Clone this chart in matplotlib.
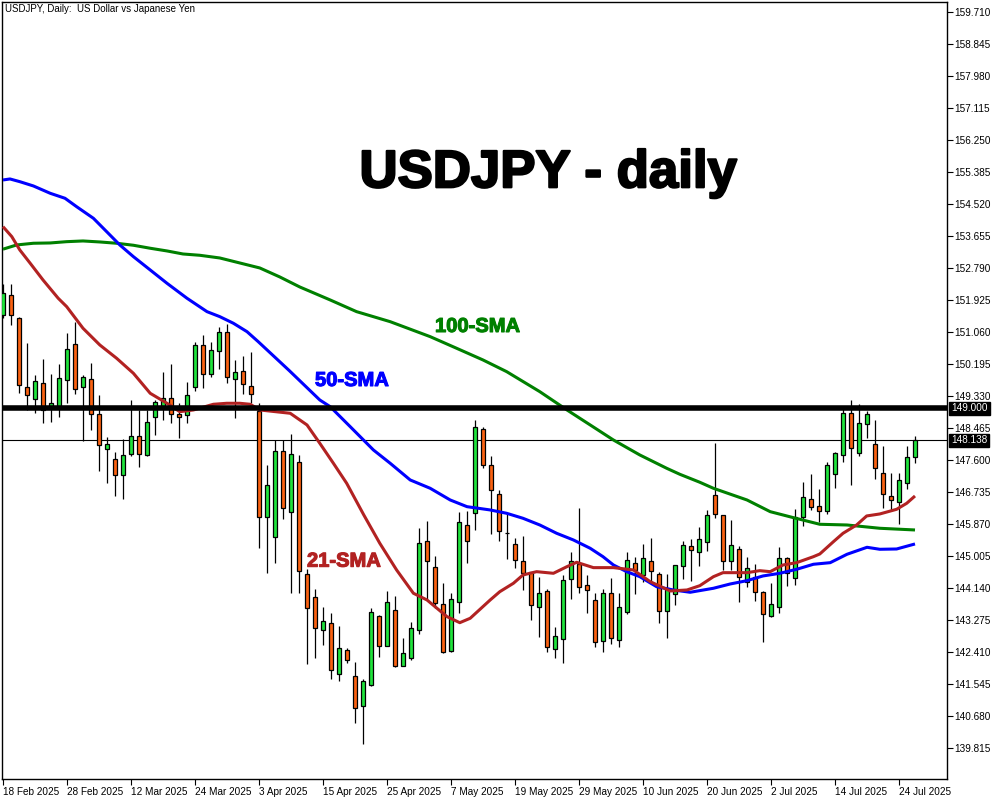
import matplotlib
matplotlib.use("Agg")
import matplotlib.pyplot as plt
import matplotlib.transforms as mtransforms
import matplotlib.patheffects as pe

# ---------------- data ----------------
opens = [151.527, 152.068, 151.438, 149.589, 149.248, 149.681, 149.013, 149.013, 149.762, 150.735,
         149.589, 149.789, 148.843, 147.897, 147.626, 147.194, 147.761, 148.248, 147.734, 148.762,
         149.013, 149.275, 148.851, 148.816, 149.589, 150.708, 149.924, 150.546, 151.060, 149.789,
         150.005, 149.600, 148.932, 146.058, 145.518, 147.843, 146.193, 147.545, 144.525, 143.896,
         143.012, 143.193, 141.814, 142.463, 141.760, 140.957, 141.525, 143.398, 142.587, 143.544,
         142.047, 142.246, 143.012, 145.409, 144.707, 143.706, 142.436, 143.760, 145.842, 146.166,
         148.437, 147.464, 146.680, 145.642, 145.328, 144.868, 144.571, 143.625, 144.058, 142.490,
         142.760, 144.382, 144.788, 144.220, 143.815, 142.706, 144.004, 142.741, 143.490, 144.815,
         144.507, 144.868, 144.525, 143.517, 143.985, 144.734, 145.274, 145.112, 145.399, 146.653,
         146.112, 144.885, 145.193, 144.301, 144.436, 144.031, 143.398, 143.642, 144.950, 144.409,
         146.075, 146.545, 146.356, 146.221, 147.221, 147.734, 148.870, 147.788, 148.573, 148.032,
         147.248, 146.626, 146.464, 146.977, 147.696]
highs = [152.365, 152.365, 151.481, 150.778, 149.905, 150.330, 149.932, 150.203, 151.049, 151.330,
         149.897, 150.221, 149.365, 148.237, 147.824, 148.167, 149.229, 148.959, 148.959, 149.229,
         149.986, 150.195, 149.148, 149.708, 150.805, 150.987, 150.797, 151.195, 151.284, 150.311,
         150.419, 150.535, 149.140, 147.472, 148.148, 148.148, 148.302, 147.743, 144.652, 144.112,
         143.633, 143.463, 143.120, 142.517, 142.138, 141.679, 143.598, 143.420, 144.066, 143.931,
         142.803, 143.236, 145.777, 145.958, 145.012, 144.290, 144.020, 146.193, 146.229, 148.689,
         148.491, 147.715, 146.796, 146.166, 145.491, 145.553, 144.580, 144.452, 144.120, 143.085,
         144.498, 145.112, 146.310, 144.498, 144.004, 144.120, 144.425, 144.004, 145.112, 144.993,
         145.328, 145.507, 144.571, 144.525, 144.770, 145.409, 145.464, 145.796, 146.256, 148.075,
         146.120, 145.985, 145.283, 144.993, 144.796, 144.076, 144.282, 145.255, 144.993, 146.283,
         147.013, 147.229, 146.823, 147.561, 147.831, 148.978, 149.229, 149.113, 148.932, 148.689,
         147.986, 147.248, 147.248, 147.986, 148.256]
lows = [151.446, 151.257, 149.427, 148.959, 148.870, 148.600, 148.643, 148.778, 149.140, 149.383,
        148.129, 148.418, 147.318, 146.977, 146.642, 146.561, 147.715, 147.426, 147.715, 148.283,
        148.689, 148.616, 148.210, 148.616, 149.481, 149.562, 149.859, 150.067, 149.697, 148.735,
        149.383, 149.148, 145.220, 144.561, 144.831, 146.004, 144.020, 144.020, 142.084, 142.246,
        142.606, 141.679, 141.641, 142.127, 140.489, 139.922, 141.500, 142.290, 142.570, 142.003,
        142.030, 142.201, 142.895, 143.842, 143.598, 142.382, 142.420, 143.463, 144.831, 145.715,
        147.399, 145.607, 145.426, 144.939, 144.679, 144.093, 143.282, 142.831, 142.425, 142.246,
        142.127, 143.858, 144.004, 143.463, 142.560, 142.409, 142.625, 142.544, 143.436, 143.993,
        144.309, 144.309, 143.209, 142.803, 143.679, 144.390, 144.344, 144.750, 145.155, 146.031,
        144.634, 144.634, 143.777, 144.182, 143.796, 142.695, 143.363, 143.463, 144.209, 144.228,
        145.831, 146.256, 145.939, 146.156, 146.859, 147.561, 146.940, 147.724, 148.210, 147.102,
        146.318, 146.256, 145.885, 146.831, 147.534]
closes = [152.114, 151.527, 149.635, 149.356, 149.735, 148.959, 149.140, 149.816, 150.600, 149.519,
          149.843, 148.851, 148.005, 148.032, 147.194, 147.734, 148.248, 147.778, 148.626, 149.167,
          149.275, 148.851, 148.778, 149.356, 150.708, 149.924, 150.573, 151.060, 149.859, 149.978,
          149.654, 149.383, 146.075, 146.923, 147.843, 146.302, 147.761, 144.615, 143.598, 143.074,
          143.247, 141.930, 142.517, 142.201, 140.895, 141.625, 143.490, 142.579, 143.760, 142.030,
          142.382, 143.074, 145.372, 144.877, 143.733, 142.409, 143.842, 145.923, 145.409, 148.491,
          147.464, 146.788, 145.680, 145.626, 144.896, 144.544, 143.679, 144.004, 142.560, 142.841,
          144.355, 144.885, 144.166, 144.093, 142.679, 144.020, 142.787, 143.625, 144.896, 144.642,
          144.950, 144.598, 143.517, 144.139, 144.761, 145.301, 145.166, 145.464, 146.112, 146.139,
          144.885, 145.301, 144.436, 144.679, 144.031, 143.436, 143.706, 144.950, 144.561, 146.075,
          146.599, 146.345, 146.237, 147.464, 147.788, 148.886, 147.924, 148.600, 148.843, 147.383,
          146.680, 146.535, 147.059, 147.680, 148.138]

# moving averages, read at bar positions
sma21_x = [0, 1.1, 2.1, 3.4, 5, 6.9, 7.96, 10, 12.1, 14.2, 16.3, 18.4, 20.5, 22.1, 23.8, 26.3, 27.96,
           29.6, 30.9, 32.1, 35.9, 38, 39.6, 41.3, 42.96, 45.1, 47.1, 49.2, 51.3, 53, 55.5, 57.1, 58.4,
           60.9, 62.1, 63.8, 65, 66.7, 68.8, 70.5, 71.7, 73.8, 76.3, 78.8, 80.9, 83.4, 85.5, 87.1, 88.8,
           90, 93, 94.6, 95.9, 97.5, 99.2, 101.3, 102.1, 103.8, 105, 106.7, 107.96, 109.6, 111.7, 112.96, 114]
sma21_v = [153.915, 153.645, 153.285, 152.925, 152.474, 151.979, 151.752, 151.168, 150.717, 150.357,
           149.951, 149.410, 149.140, 148.913, 148.959, 149.113, 149.140, 149.140, 149.113, 148.959,
           148.870, 148.554, 148.059, 147.518, 146.977, 146.121, 145.355, 144.634, 144.004, 143.823,
           143.372, 143.209, 143.328, 143.823, 144.047, 144.274, 144.499, 144.588, 144.544, 144.724,
           144.842, 144.697, 144.697, 144.634, 144.318, 144.066, 144.093, 144.209, 144.452, 144.561,
           144.561, 144.615, 144.588, 144.769, 144.831, 144.993, 145.066, 145.398, 145.625, 145.850,
           146.094, 146.148, 146.274, 146.436, 146.634]
sma50_x = [0, 0.875, 2.1, 3.8, 5.9, 7.75, 9.2, 11.3, 12.96, 14.6, 16.3, 18.4, 20.5, 23, 25.5, 27.1,
           28.8, 30.5, 31.9, 35.8, 39.6, 40.9, 43.4, 46.3, 48.4, 50.9, 53.4, 55.9, 58, 60.9, 62.96, 65, 67.1,
           69.2, 71.3, 73.4, 75, 76.3, 77.96, 79.6, 81.7, 83.8, 85.9, 88.8, 90.9, 93, 95, 97.1, 99.2,
           101.3, 103.4, 105.5, 108, 109.6, 111.7, 114]
sma50_v = [155.177, 155.204, 155.131, 155.015, 154.817, 154.682, 154.455, 154.141, 153.779, 153.420,
           153.104, 152.744, 152.384, 151.979, 151.617, 151.482, 151.303, 151.076, 150.806, 150.020,
           149.229, 149.048, 148.508, 147.878, 147.518, 147.067, 146.842, 146.526, 146.345, 146.256,
           146.166, 146.031, 145.850, 145.626, 145.445, 145.220, 144.993, 144.769, 144.588, 144.453,
           144.182, 144.093, 144.031, 144.139, 144.255, 144.345, 144.472, 144.544, 144.652, 144.788,
           144.831, 145.058, 145.247, 145.193, 145.201, 145.337]
sma100_x = [0, 1.7, 3.8, 5.9, 7.96, 10, 12.1, 14.2, 16.3, 18.4, 20.5, 22.5, 24.6, 27.1, 29.6, 32.1,
            34.6, 37.1, 40.9, 44.2, 48.4, 53.4, 56.7, 60, 62.96, 67.1, 70.5, 73.4, 76.3, 79.6, 82.96,
            84.6, 87.1, 88.8, 93, 95.9, 98.8, 102.1, 105.5, 109.6, 114]
sma100_v = [153.306, 153.420, 153.466, 153.474, 153.509, 153.528, 153.501, 153.466, 153.412, 153.331,
            153.258, 153.176, 153.141, 153.068, 152.933, 152.798, 152.555, 152.284, 151.933, 151.617,
            151.346, 150.941, 150.627, 150.311, 149.995, 149.454, 148.959, 148.554, 148.148, 147.743,
            147.383, 147.221, 147.005, 146.842, 146.526, 146.210, 146.048, 145.869, 145.850, 145.761,
            145.715]

date_labels = ["18 Feb 2025", "28 Feb 2025", "12 Mar 2025", "24 Mar 2025", "3 Apr 2025",
               "15 Apr 2025", "25 Apr 2025", "7 May 2025", "19 May 2025", "29 May 2025",
               "10 Jun 2025", "20 Jun 2025", "2 Jul 2025", "14 Jul 2025", "24 Jul 2025"]
date_label_step = 8  # bars between date labels

price_ticks = [159.710, 158.845, 157.980, 157.115, 156.250, 155.385, 154.520, 153.655, 152.790,
               151.925, 151.060, 150.195, 149.330, 148.465, 147.600, 146.735, 145.870, 145.005,
               144.140, 143.275, 142.410, 141.545, 140.680, 139.815]
level_price = 149.000
last_price = 148.138

# ---------------- figure ----------------
W, H = 1000, 800
fig = plt.figure(figsize=(W / 100, H / 100), dpi=100)
fig.patch.set_facecolor("white")
L, R, T, B = 2, 947, 2, 779
ax = fig.add_axes([L / W, 1 - B / H, (R - L) / W, (B - T) / H])
ax.set_xlim(-0.125, 118)
ax.set_ylim(138.983, 159.988)

for s in ax.spines.values():
    s.set_linewidth(1.0)
    s.set_color("black")

n = len(opens)
xs = list(range(n))
up_col = "#20E33C"
dn_col = "#FA6212"

# wicks
ax.vlines(xs, lows, highs, color="black", linewidth=0.9, zorder=2)
# bodies
bottoms = [min(o, c) for o, c in zip(opens, closes)]
heights = [max(abs(c - o), 0.012) for o, c in zip(opens, closes)]
cols = [up_col if c >= o else dn_col for o, c in zip(opens, closes)]
ax.bar(xs, heights, bottom=bottoms, width=0.6, color=cols, edgecolor="black",
       linewidth=0.9, zorder=3)

# moving averages
ax.plot(sma100_x, sma100_v, color="#008000", linewidth=2.2, zorder=4, solid_capstyle="butt")
ax.plot(sma50_x, sma50_v, color="#0000FF", linewidth=2.2, zorder=4, solid_capstyle="butt")
ax.plot(sma21_x, sma21_v, color="#B22222", linewidth=2.2, zorder=4, solid_capstyle="butt")

# horizontal levels
ax.axhline(level_price, color="black", linewidth=4.0, zorder=5)
ax.axhline(last_price, color="black", linewidth=0.8, zorder=1.5)

# annotations
def heavy(color, w):
    return [pe.withStroke(linewidth=w, foreground=color)]

ax.text(68.1, 154.98, "USDJPY - daily", fontsize=38, fontweight="bold",
        family="Liberation Sans", ha="center", va="baseline", color="black", zorder=6,
        path_effects=heavy("black", 1.6))
ax.text(54.0, 151.068, "100-SMA", fontsize=14.5, fontweight="bold", family="Liberation Sans",
        color="#008000", ha="left", va="baseline", zorder=6, path_effects=heavy("#008000", 0.8))
ax.text(39.0, 149.608, "50-SMA", fontsize=14.5, fontweight="bold", family="Liberation Sans",
        color="#0000FF", ha="left", va="baseline", zorder=6, path_effects=heavy("#0000FF", 0.8))
ax.text(38.0, 144.723, "21-SMA", fontsize=14.5, fontweight="bold", family="Liberation Sans",
        color="#B22222", ha="left", va="baseline", zorder=6, path_effects=heavy("#B22222", 0.8))

fig.text(5 / W, 1 - 9.5 / H, "USDJPY, Daily:  US Dollar vs Japanese Yen", fontsize=7,
         family="Liberation Sans", ha="left", va="center")

# axes ticks
ax.yaxis.tick_right()
ax.set_yticks(price_ticks)
ax.set_yticklabels([f"{t:.3f}" for t in price_ticks])
ax.tick_params(axis="y", direction="out", length=4, width=0.8, pad=1.0, labelsize=7.2,
               colors="black")
ax.set_xticks([i * date_label_step for i in range(len(date_labels))])
ax.set_xticklabels(date_labels)
ax.tick_params(axis="x", direction="out", length=4, width=0.8, pad=1.5, labelsize=7.2)
for lbl in ax.get_xticklabels():
    lbl.set_ha("left")
    lbl.set_family("Liberation Sans")
for lbl in ax.get_yticklabels():
    lbl.set_family("Liberation Sans")

# price tags on the right axis
trans = mtransforms.blended_transform_factory(ax.transAxes, ax.transData)
for p in (level_price, last_price):
    ax.text(1.0045, p, f"{p:.3f}", transform=trans, fontsize=7.2, family="Liberation Sans",
            color="white", ha="left", va="center", zorder=10, clip_on=False,
            bbox=dict(boxstyle="square,pad=0.18", facecolor="black", edgecolor="black"))

fig.savefig("out.png", dpi=100, facecolor="white")
